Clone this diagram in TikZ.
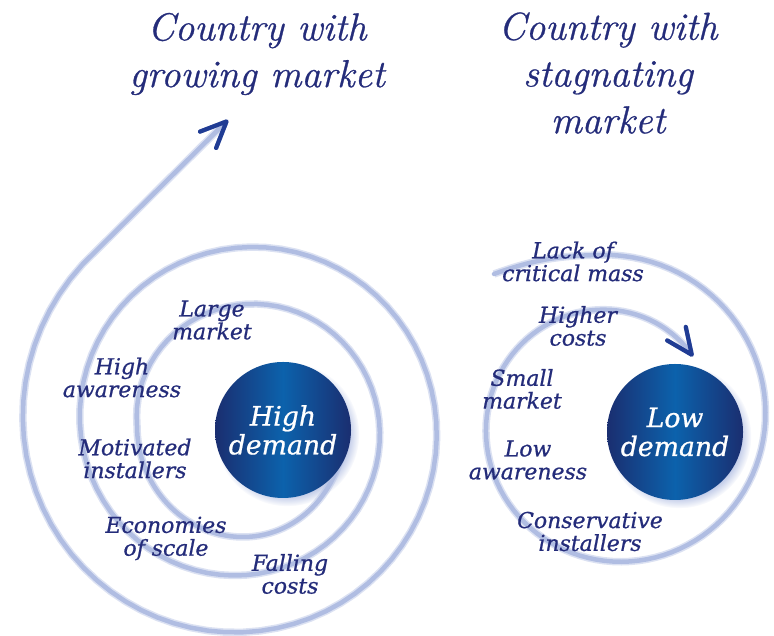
\documentclass[tikz,border=0pt]{standalone}
\usepackage{fontspec}
\newfontfamily\labelfont{DejaVu Serif}[FakeBold=0.8]
\newfontfamily\headfont{Latin Modern Roman}[FakeBold=0.7]
\usetikzlibrary{arrows.meta,shadows}

\definecolor{ink}{RGB}{36,44,122}
\definecolor{ringblue}{RGB}{176,189,226}
\definecolor{tipblue}{RGB}{32,60,148}
\definecolor{deep}{RGB}{26,46,112}
\definecolor{bright}{RGB}{12,98,172}

\tikzset{
  heading/.style={text=ink, align=center, inner sep=0pt,
    font=\headfont\fontsize{11.1}{13.3}\selectfont\itshape},
  factor/.style={text=ink, align=center, inner sep=0pt,
    font=\labelfont\fontsize{6.25}{6.5}\selectfont\itshape},
  demand/.style={circle, minimum size=1.36cm, inner sep=0pt, align=center, text=white,
    left color=deep, right color=deep, middle color=bright,
    circular drop shadow={shadow xshift=0.04cm, shadow yshift=-0.04cm,
      shadow scale=1.06, fill=ringblue, opacity=0.8},
    font=\labelfont\fontsize{7.6}{8.2}\selectfont\itshape},
  spiral/.style={draw=ringblue, line width=0.45mm, line cap=round,
    preaction={draw=ringblue, line width=0.75mm, opacity=0.45}},
  barb/.style={-{Straight Barb[length=2.6mm, width=2.3mm, line width'=0.42mm, round, color=tipblue]}},
}

\begin{document}
\begin{tikzpicture}
\useasboundingbox (0,0) rectangle (7.74,6.36);

\coordinate (grow) at (2.28,5.16);

% growing market: spiral opening outwards
\draw[spiral, barb] (3.45,2.10) to[out=-90,in=0] (2.43,0.99) to[out=180,in=-90] (1.37,2.105)
  -- plot[domain=0:765, samples=160, variable=\t]
     ({2.44+(1.07+0.285*\t/180)*cos(180-\t)}, {2.105+(1.07+0.285*\t/180)*sin(180-\t)})
  -- (grow);

% stagnating market: spiral closing inwards
\draw[spiral, barb] (4.94,3.62) to[out=20,in=180] (6.12,3.81)
  -- plot[domain=0:411, samples=120, variable=\t]
     ({6.12+(1.67-0.1375*\t/90)*cos(90-\t)}, {2.14+(1.67-0.1375*\t/90)*sin(90-\t)});

\node[demand] (high) at (2.83,2.06) {High\\demand};
\node[demand] (low) at (6.75,2.04) {Low\\demand};

\node[heading] (grows) at (2.57,5.82) {Country with\\growing market};
\node[heading] (stalls) at (6.08,5.63) {Country with\\stagnating\\market};

\node[factor] (large) at (2.12,3.16) {Large\\market};
\node[factor] (aware) at (1.22,2.585) {High\\awareness};
\node[factor] (motiv) at (1.35,1.775) {Motivated\\installers};
\node[factor] (scale) at (1.66,0.975) {Economies\\of scale};
\node[factor] (falling) at (2.90,0.62) {Falling\\costs};

\node[factor] (lack) at (5.73,3.745) {Lack of\\critical mass};
\node[factor] (higher) at (5.78,3.10) {Higher\\costs};
\node[factor] (small) at (5.22,2.47) {Small\\market};
\node[factor] (lowaware) at (5.28,1.76) {Low\\awareness};
\node[factor] (conserv) at (5.90,1.045) {Conservative\\installers};

\end{tikzpicture}
\end{document}
